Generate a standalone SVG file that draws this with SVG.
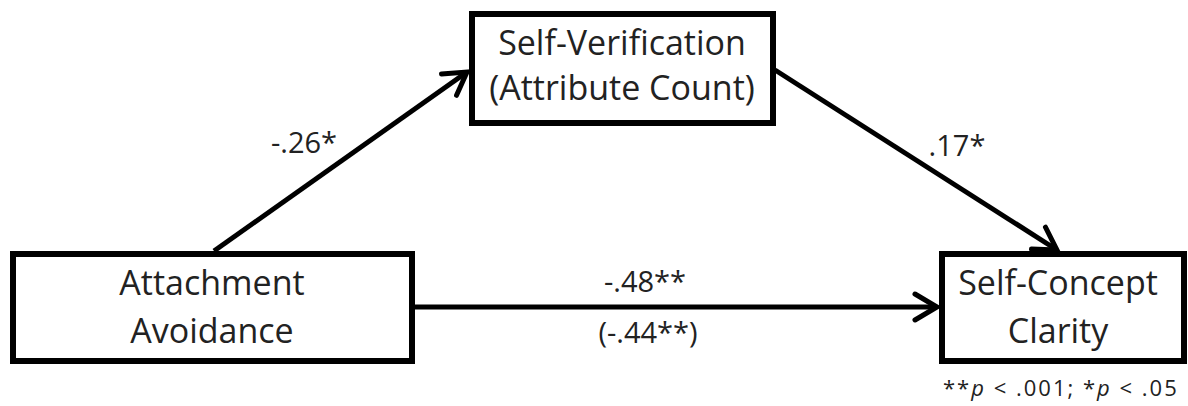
<svg xmlns="http://www.w3.org/2000/svg" width="1188" height="406" viewBox="0 0 1188 406">
<defs>
<style>
.box{fill:#fff;stroke:#000;stroke-width:6}
.lbl{font-family:"Open Sans","Liberation Sans",sans-serif;font-size:34px;fill:#222;text-anchor:middle}
.num{font-family:"Open Sans","Liberation Sans",sans-serif;font-size:29px;fill:#222;text-anchor:middle}
.note{font-family:"Open Sans","Liberation Sans",sans-serif;font-size:22px;fill:#222;letter-spacing:2px}
.edge{stroke:#000;stroke-width:5;fill:none}
</style>
<marker id="arr" markerUnits="userSpaceOnUse" markerWidth="40" markerHeight="40" viewBox="-30 -20 40 40" refX="0" refY="0" orient="auto">
<path d="M-22,-13 L0,0 L-22,13" fill="none" stroke="#000" stroke-width="5" stroke-linecap="round" stroke-linejoin="miter"/>
</marker>
</defs>
<rect width="1188" height="406" fill="#fff"/>
<g id="connectors">
<line class="edge" x1="214" y1="251" x2="467" y2="72" marker-end="url(#arr)"/>
<line class="edge" x1="775" y1="70" x2="1057" y2="250" marker-end="url(#arr)"/>
<line class="edge" x1="415" y1="307" x2="937" y2="307" marker-end="url(#arr)"/>
<text class="num" x="304" y="153">-.26*</text>
<text class="num" x="957" y="156">.17*</text>
<text class="num" x="645" y="292">-.48**</text>
<text class="num" x="648" y="343">(-.44**)</text>
</g>
<g id="node-attachment">
<rect class="box" x="13" y="254" width="399" height="107"/>
<text class="lbl" x="212" y="295">Attachment</text>
<text class="lbl" x="212" y="343">Avoidance</text>
</g>
<g id="node-selfverification">
<rect class="box" x="472" y="14" width="301" height="109"/>
<text class="lbl" x="622" y="55">Self-Verification</text>
<text class="lbl" x="622" y="100">(Attribute Count)</text>
</g>
<g id="node-clarity">
<rect class="box" x="942" y="254" width="242" height="107"/>
<text class="lbl" x="1058" y="295">Self-Concept</text>
<text class="lbl" x="1058" y="343">Clarity</text>
</g>
<g id="footnote">
<text class="note" x="943" y="396">**<tspan font-style="italic">p</tspan> &lt; .001; *<tspan font-style="italic">p</tspan> &lt; .05</text>
</g>
</svg>
